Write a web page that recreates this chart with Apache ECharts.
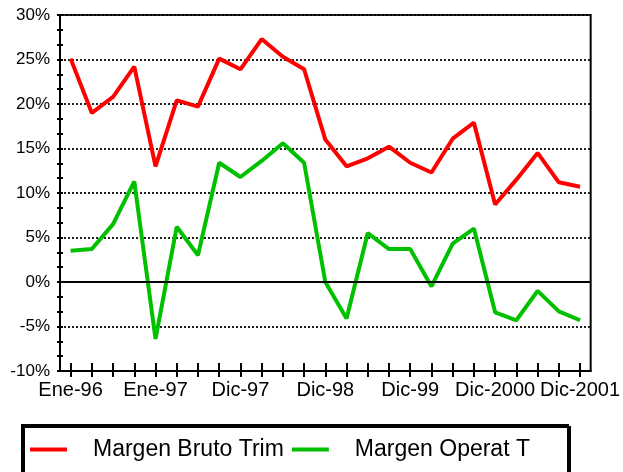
<!DOCTYPE html>
<head>
    <meta charset="utf-8">
    <title>Margenes</title>
    <style>
    html,body { height:100%; width:100%; margin:0; background:white; padding:0; }
    #main { width:623px; height:472px; }
    </style>
</head>
<body>
<div id="main"></div>
<script src="https://cdn.jsdelivr.net/npm/echarts@6/dist/echarts.min.js"></script>
<script type="text/javascript">
// trimestres (solo algunos se rotulan en el eje)
var meses = ['Ene-96','Abr-96','Jul-96','Oct-96','Ene-97','Mar-97','Jun-97','Sep-97','Dic-97',
             'Mar-98','Jun-98','Sep-98','Dic-98','Mar-99','Jun-99','Sep-99','Dic-99',
             'Mar-2000','Jun-2000','Sep-2000','Dic-2000','Mar-2001','Jun-2001','Sep-2001','Dic-2001'];
var rotulos = ['Ene-96','Ene-97','Dic-97','Dic-98','Dic-99','Dic-2000','Dic-2001'];

var margenBruto = [25.1, 19.0, 20.8, 24.2, 13.0, 20.4, 19.7, 25.1, 23.9, 27.3, 25.3, 23.9,
                   16.0, 13.0, 13.9, 15.2, 13.4, 12.3, 16.1, 17.9, 8.7, 11.5, 14.5, 11.2, 10.7];
var margenOperat = [3.5, 3.7, 6.5, 11.3, -6.4, 6.2, 3.0, 13.4, 11.8, 13.6, 15.6, 13.4,
                    0.0, -4.1, 5.5, 3.7, 3.7, -0.5, 4.3, 6.0, -3.4, -4.3, -1.0, -3.3, -4.3];

var fuente = 'Liberation Sans, Arial, sans-serif';

var myChart = echarts.init(document.getElementById('main'));

var option = {
    animation: false,
    textStyle: { fontFamily: fuente },
    grid: {
        left: 60, right: 29, top: 15, bottom: 101,
        show: true, borderColor: '#000', borderWidth: 2
    },
    legend: {
        left: 22, top: 425,
        padding: [13, 38, 30, 8],
        itemGap: 8,
        itemWidth: 37, itemHeight: 4,
        borderColor: '#000', borderWidth: 2,
        shadowColor: '#000', shadowBlur: 0, shadowOffsetX: 2, shadowOffsetY: 2,
        backgroundColor: '#fff',
        textStyle: { fontSize: 23, color: '#000', fontFamily: fuente, padding: [0, 0, 0, 21] },
        data: [
            { name: 'Margen Bruto Trim', icon: 'rect' },
            { name: 'Margen Operat T', icon: 'rect' }
        ]
    },
    xAxis: [{
        type: 'category',
        data: meses,
        boundaryGap: true,
        axisLine: { onZero: false, lineStyle: { color: '#000', width: 2 } },
        axisTick: { show: true, interval: 0, alignWithLabel: true, length: 6, lineStyle: { color: '#000', width: 2 } },
        axisLabel: {
            interval: 0, margin: 9, fontSize: 20, color: '#000',
            formatter: function (v) { return rotulos.indexOf(v) >= 0 ? v : ''; }
        },
        splitLine: { show: false }
    }, {
        type: 'category',
        data: meses,
        position: 'bottom',
        boundaryGap: true,
        axisLine: { show: false, onZero: false },
        axisTick: { show: true, inside: true, interval: 0, alignWithLabel: true, length: 8, lineStyle: { color: '#000', width: 2 } },
        axisLabel: { show: false },
        splitLine: { show: false }
    }],
    yAxis: [{
        type: 'value',
        min: -10, max: 30, interval: 5,
        axisLine: { show: true, lineStyle: { color: '#000', width: 2 } },
        axisTick: { show: true, length: 3, lineStyle: { color: '#000', width: 2 } },
        minorTick: { show: true, splitNumber: 3, length: 3, lineStyle: { color: '#000', width: 2 } },
        axisLabel: { formatter: '{value}%', fontSize: 17, color: '#000', margin: 10 },
        splitLine: { show: true, lineStyle: { color: '#222', width: 2, type: [2, 2] } }
    }, {
        type: 'value',
        min: -10, max: 30, interval: 5,
        position: 'left',
        axisLine: { show: false },
        axisTick: { show: true, inside: true, length: 3, lineStyle: { color: '#000', width: 2 } },
        minorTick: { show: true, splitNumber: 3, length: 3, lineStyle: { color: '#000', width: 2 } },
        axisLabel: { show: false },
        splitLine: { show: false }
    }],
    series: [{
        name: 'Margen Bruto Trim',
        type: 'line',
        data: margenBruto,
        symbol: 'none',
        color: '#ff0000',
        lineStyle: { color: '#ff0000', width: 4 },
        markLine: {
            silent: true,
            symbol: 'none',
            label: { show: false },
            lineStyle: { color: '#000', width: 2, type: 'solid' },
            data: [{ yAxis: 0 }]
        }
    }, {
        name: 'Margen Operat T',
        type: 'line',
        data: margenOperat,
        symbol: 'none',
        color: '#00c000',
        lineStyle: { color: '#00c000', width: 4 }
    }]
};

myChart.setOption(option, true);
</script>
</body>
